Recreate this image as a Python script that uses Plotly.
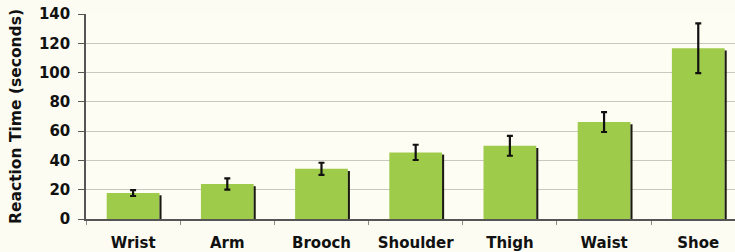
import plotly.graph_objects as go

categories = ["Wrist", "Arm", "Brooch", "Shoulder", "Thigh", "Waist", "Shoe"]
reaction_time = [17.7, 23.9, 34.3, 45.5, 50.0, 66.2, 116.6]
error = [2.0, 3.8, 4.1, 5.2, 6.8, 6.8, 17.0]
y_ticks = [0, 20, 40, 60, 80, 100, 120, 140]

FONT = "DejaVu Sans"
BAR = "#9fcb4a"

fig = go.Figure()
fig.add_trace(go.Bar(
    x=categories, y=reaction_time,
    width=0.56, offset=-0.28,
    marker=dict(color=BAR, line=dict(width=0)),
    showlegend=False, hoverinfo="skip",
))
# dark right-edge shadow of each bar
fig.add_trace(go.Bar(
    x=categories, y=[v - 1.5 for v in reaction_time],
    width=0.022, offset=0.28,
    marker=dict(color="#1a1a10", line=dict(width=0)),
    showlegend=False, hoverinfo="skip",
))
# error bars centred on the bars
fig.add_trace(go.Scatter(
    x=categories, y=reaction_time, mode="markers",
    marker=dict(size=0.1, color="rgba(0,0,0,0)"),
    error_y=dict(type="data", array=error, color="#111111", thickness=2.2, width=3),
    showlegend=False, hoverinfo="skip",
))

fig.update_layout(
    width=735, height=252,
    margin=dict(l=86, r=0, t=14, b=33),
    paper_bgcolor="#fcfcf3",
    plot_bgcolor="#fdfdf4",
    barmode="overlay",
    font=dict(family=FONT, color="#111111"),
    xaxis=dict(
        type="category", range=[-0.5, 6.39], automargin=False,
        showline=True, linecolor="#555555", linewidth=1.5,
        ticks="outside", tickson="boundaries", ticklen=4, tickcolor="#888888",
        tickfont=dict(family=FONT, size=15, color="#111111", weight="bold"),
        ticklabelstandoff=9, ticklabeloverflow="allow",
        showgrid=False, zeroline=False,
    ),
    yaxis=dict(
        range=[0, 140], tickvals=y_ticks, automargin=False,
        showline=True, linecolor="#555555", linewidth=1.5,
        ticks="outside", ticklen=6, tickcolor="#555555",
        tickfont=dict(family=FONT, size=15, color="#111111", weight="bold"),
        ticklabelstandoff=5, ticklabeloverflow="allow",
        showgrid=True, gridcolor="#c8c8c0", gridwidth=1.2,
        zeroline=False,
        title=dict(text="Reaction Time (seconds)", standoff=14,
                   font=dict(family=FONT, size=15.5, color="#111111", weight="bold")),
    ),
)

fig.write_html(
    "out.html",
    config={"displayModeBar": False},
    post_script="document.body.style.margin='0';document.body.style.overflow='hidden';",
)
